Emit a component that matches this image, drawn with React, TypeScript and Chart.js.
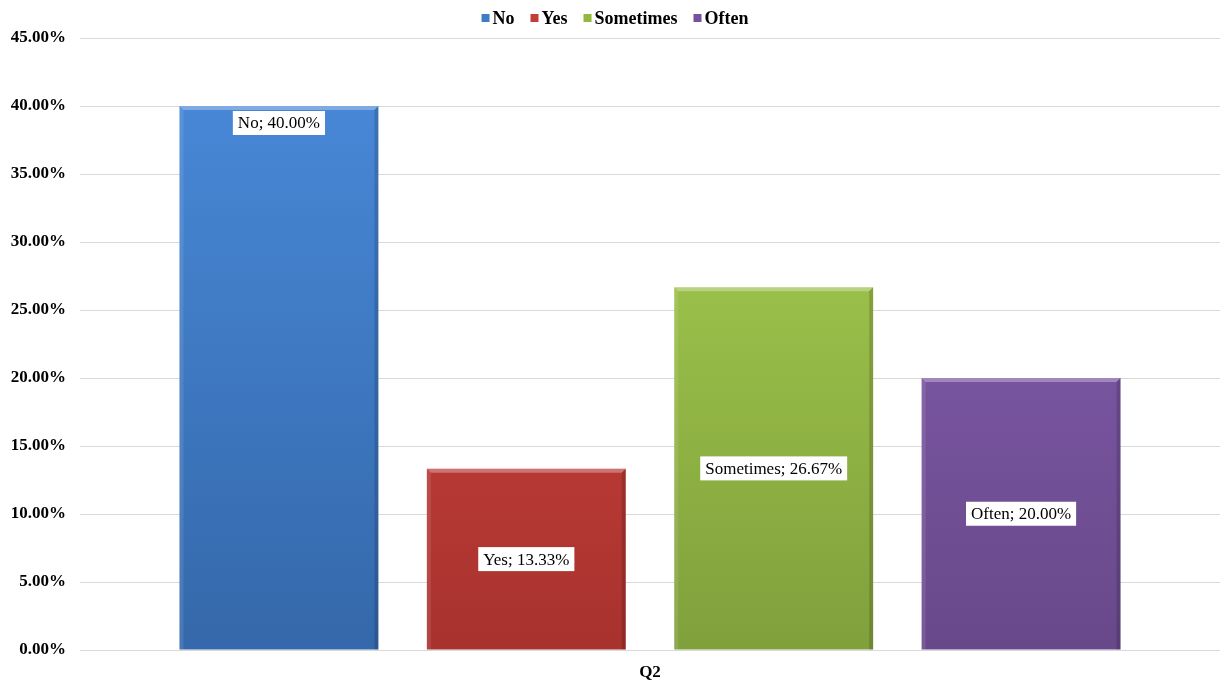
import React, { useEffect, useRef } from "react";
import { Chart, registerables } from "chart.js";

Chart.register(...registerables);

const categories = ["Q2"];
const seriesNames = ["No", "Yes", "Sometimes", "Often"];
const seriesValues = [40.0, 13.33, 26.67, 20.0];
const gradientTop = ["#4a8bdb", "#db4843", "#abd452", "#8b63ba"];
const gradientBottom = ["#3468aa", "#a8322e", "#80a03c", "#684889"];
const legendColors = ["#3f7cc7", "#c43c3a", "#93b840", "#7850a0"];
const labelPositions = ["end", "center", "center", "center"];
const yTicks = [0, 5, 10, 15, 20, 25, 30, 35, 40, 45];

const FONT = "'Liberation Serif', 'Times New Roman', serif";

const legendPlugin = {
  id: "customLegend",
  afterDraw(chart: any) {
    const ctx = chart.ctx;
    ctx.save();
    ctx.font = `bold 18px ${FONT}`;
    ctx.textBaseline = "middle";
    ctx.textAlign = "left";
    const box = 8;
    const gap = 3;
    const itemGap = 16;
    const widths = seriesNames.map((n) => box + gap + ctx.measureText(n).width);
    const total = widths.reduce((a, b) => a + b, 0) + itemGap * (seriesNames.length - 1);
    let x = chart.width / 2 - total / 2 + 3;
    const cy = 18;
    seriesNames.forEach((n, i) => {
      ctx.fillStyle = legendColors[i];
      ctx.fillRect(x, cy - box / 2, box, box);
      ctx.fillStyle = "#000";
      ctx.fillText(n, x + box + gap, cy + 1);
      x += widths[i] + itemGap;
    });
    ctx.restore();
  },
};

const labelPlugin = {
  id: "barLabels",
  afterDatasetsDraw(chart: any) {
    const ctx = chart.ctx;
    ctx.save();
    ctx.font = `17px ${FONT}`;
    ctx.textAlign = "center";
    ctx.textBaseline = "middle";
    chart.data.datasets.forEach((ds: any, i: number) => {
      const meta = chart.getDatasetMeta(i);
      const el: any = meta.data[0];
      if (!el) return;
      const text = `${seriesNames[i]}; ${seriesValues[i].toFixed(2)}%`;
      const w = ctx.measureText(text).width + 10;
      const h = 24;
      let cy: number;
      if (labelPositions[i] === "end") cy = el.y + 17;
      else cy = (el.y + el.base) / 2;
      ctx.fillStyle = "#ffffff";
      ctx.fillRect(el.x - w / 2, cy - h / 2, w, h);
      ctx.fillStyle = "#000000";
      ctx.fillText(text, el.x, cy + 1);
    });
    ctx.restore();
  },
};

const bevelPlugin = {
  id: "bevel",
  afterDatasetsDraw(chart: any) {
    const ctx = chart.ctx;
    ctx.save();
    chart.data.datasets.forEach((_ds: any, i: number) => {
      const el: any = chart.getDatasetMeta(i).data[0];
      if (!el) return;
      const left = el.x - el.width / 2;
      const right = el.x + el.width / 2;
      const top = el.y;
      const bottom = el.base;
      const b = 4;
      ctx.fillStyle = "rgba(255,255,255,0.3)";
      ctx.beginPath();
      ctx.moveTo(left, top);
      ctx.lineTo(right, top);
      ctx.lineTo(right - b, top + b);
      ctx.lineTo(left + b, top + b);
      ctx.closePath();
      ctx.fill();
      ctx.fillStyle = "rgba(255,255,255,0.1)";
      ctx.beginPath();
      ctx.moveTo(left, top);
      ctx.lineTo(left + b, top + b);
      ctx.lineTo(left + b, bottom);
      ctx.lineTo(left, bottom);
      ctx.closePath();
      ctx.fill();
      ctx.fillStyle = "rgba(0,0,0,0.15)";
      ctx.beginPath();
      ctx.moveTo(right, top);
      ctx.lineTo(right - b, top + b);
      ctx.lineTo(right - b, bottom);
      ctx.lineTo(right, bottom);
      ctx.closePath();
      ctx.fill();
    });
    ctx.restore();
  },
};

export default function App() {
  const ref = useRef<HTMLCanvasElement | null>(null);
  useEffect(() => {
    if (!ref.current) return;
    const chart = new Chart(ref.current, {
      type: "bar",
      data: {
        labels: categories,
        datasets: seriesNames.map((name, i) => ({
          label: name,
          data: [seriesValues[i]],
          backgroundColor: (c: any) => {
            const area = c.chart.chartArea;
            if (!area) return gradientTop[i];
            const el: any = c.chart.getDatasetMeta(i).data[0];
            const top = el && isFinite(el.y) ? el.y : area.top;
            const g = c.chart.ctx.createLinearGradient(0, top, 0, area.bottom);
            g.addColorStop(0, gradientTop[i]);
            g.addColorStop(1, gradientBottom[i]);
            return g;
          },
          borderWidth: 0,
          categoryPercentage: 0.868,
          barPercentage: 0.804,
        })),
      },
      plugins: [bevelPlugin, labelPlugin, legendPlugin],
      options: {
        responsive: false,
        animation: false,
        layout: { padding: { left: 4, right: 4, top: 38, bottom: 0 } },
        plugins: {
          legend: { display: false },
          tooltip: { enabled: false },
        },
        scales: {
          x: {
            grid: { display: false, drawTicks: false },
            border: { display: false },
            afterFit: (axis: any) => {
              axis.height = 34;
            },
            ticks: {
              color: "#000",
              padding: 12,
              font: { family: FONT, size: 17, weight: "bold" },
            },
          },
          y: {
            min: 0,
            max: 45,
            afterBuildTicks: (axis: any) => {
              axis.ticks = yTicks.map((v) => ({ value: v }));
            },
            afterFit: (axis: any) => {
              axis.width = 76;
            },
            grid: { color: "#d9d9d9", drawTicks: false },
            border: { display: false },
            ticks: {
              color: "#000",
              padding: 14,
              font: { family: FONT, size: 17, weight: "bold" },
              callback: (v: any) => Number(v).toFixed(2) + "%",
            },
          },
        },
      },
    });
    return () => chart.destroy();
  }, []);
  return (
    <div style={{ position: "fixed", left: 0, top: 0, width: 1224, height: 684, background: "#fff" }}>
      <canvas ref={ref} width={1224} height={684} />
    </div>
  );
}
